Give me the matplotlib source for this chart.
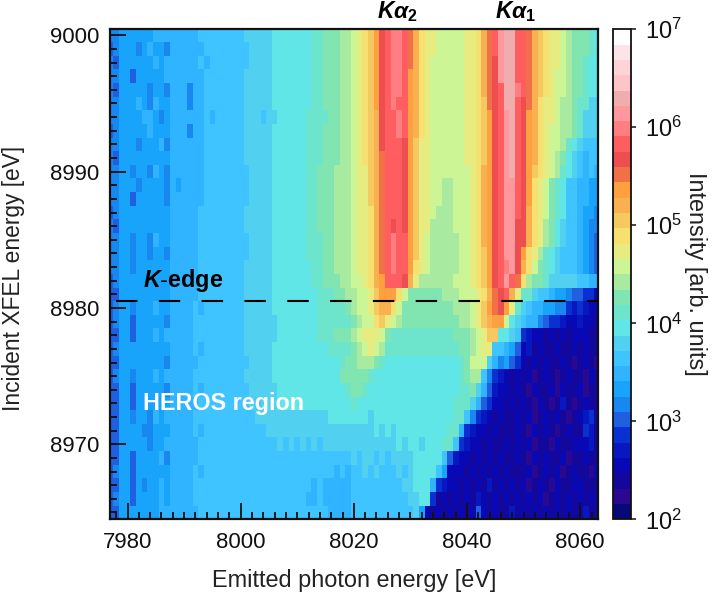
import numpy as np
import matplotlib
matplotlib.use('Agg')
import matplotlib.pyplot as plt
from matplotlib.colors import ListedColormap, LogNorm
from matplotlib.ticker import MultipleLocator

plt.rcParams['font.family'] = ['Liberation Sans', 'DejaVu Sans']
plt.rcParams['mathtext.fontset'] = 'custom'
plt.rcParams['mathtext.rm'] = 'Liberation Sans'
plt.rcParams['mathtext.bf'] = 'Liberation Sans:bold'
plt.rcParams['mathtext.it'] = 'Liberation Sans:italic'
plt.rcParams['mathtext.bfit'] = 'Liberation Sans:italic:bold'

# colour scale bands, bottom to top, over five decades
band_colors = [
    '#080878', '#2a0890', '#14089c', '#0808b4', '#0818c0', '#0a30d0', '#2060e0', '#1888f0',
    '#18a4fa', '#30b4ff', '#40c4ff', '#52d0f0', '#60e6e6', '#6ce5cc', '#80e5b0', '#a8eba0',
    '#ccf595', '#e6ec80', '#f5e070', '#f5c860', '#f8b050', '#ffa040', '#f07048', '#ee4e50',
    '#ff5e60', '#ff7e82', '#ff989c', '#efadae', '#ffc4c8', '#ffd4d8', '#fde4e8', '#ffffff',
]
band_digits = '0123456789abcdefghijklmnopqrstuv'

emitted_ev = np.arange(7977, 8064)
incident_ev = np.arange(9000, 8964, -1)

# intensity band per emitted energy column, one string per incident energy,
# groups are 7977-79, 7980-89, 7990-99, ... 8060-63
intensity_bands = [
    "778 8888899999 999aaaaaaa abbbbbcccc cccddeeeff ghijlnoppo mkihhggggg hhikmoqrro omkjihhgfe eedc",
    "678 8878988799 9999aaaaaa aabbbbcccc cccddeeeff ghijlnoppo mkihhggggg hhikmoqrro omkjihhgfe eedc",
    "768 8888898999 999a9aaaaa aabbbbcccc cccddeeeff ghijlnoppo mkihgggggg hhikmnqrro omkjihhgfe edcc",
    "778 8688888999 9999aaaaaa abbbbbcccc cccddeeeff ghijlnoppo lkihgggggg hhikmnqrro omkjihggfe edcc",
    "768 8888788799 9799aaaaaa abbbbbcccc cccddeeeff ghijlnoppo lkihgggggg hhikmnorrp omkjihggfe edcc",
    "778 8898798899 9799aaaaaa abbbbbcccc cccddeeeff ghijlnopoo lkihgggggg hhijmnorro nmkihhgffe ddbb",
    "778 8889987899 9999a9aaaa abbbabbccc ccddddeeff ghijknoopo lkihgggggg hhijlnoqro nlkihhgffe dbbb",
    "678 8888988899 9799aaaaaa abbbbbcccc ccdddeeeff ghijknoopo lkihgggggg hhijlnoqro nlkihggffe dbbb",
    "778 8878889799 9999aaaaaa abbbbbcccc ccdddeeeff ghijknooon ljhhgggggg hhijlnoqro nlkihggfdc baaa",
    "768 8888888899 9999aaaaaa abbbbbcccc ccdddeeeff ghijkmooon ljhhgggggg hhijlnoqro nlkihgfecb a9aa",
    "778 8788798799 9999aaaaaa aabbbbcccc ccddeeefff ghhjkmooon ljhhgggggg ghiklnoqro nljihgfdcb a9a9",
    "778 8878888798 9999aaaaaa aabbbbcccc ccddeeefff ghhjkmooon ljhhggffgg ghiklnoqqo nlihgedcaa 9988",
    "778 8688888799 9999aaaaaa aabbbbcccc ccddeeefff ghhjkmooon ljhhggffgg ghiklnoqqo nlihgedcaa 9988",
    "678 8888888899 999aaaaaaa abbbbbcccc ccddeeefff ghhikmooon ljhhgfffgg ghiklnoqqo nkihgedcaa 9887",
    "768 8888888899 999aaaaaaa abbbbbcccc ccddeeefff ghhikmonon ljhhffffgg ghiklnoqqn nkihfecbaa 9877",
    "778 8788798899 999aaaaaaa aabbbbcccc ccdddeefff ghhikmopoo ljhgfffffg ghiklnoqqn nkihfecbaa 9876",
    "778 8788788799 999aaaaaaa aabbbbcccc ccdddeefff ghhikmopoo ljhgfffffg ghijlnoqqn lihfdcbaaa 9876",
    "778 8788888899 999aaaaaaa abbbbbcccc cccddeefff ghhikmopoo lihgfffffg ghijlnopqn kigedcbaaa 9876",
    "678 8888888899 999aaaaaaa abbbbbcccc cccddeeeff gghiklooon khffffffgg ghijlnoqom ifeedbbbbb aa99",
    "668 8888888899 999aaaaaaa abbbbbcccc ccccdddeef fgghjlllig eeeeeefffg gghikmnokh ddbaa98876 6553",
    "678 8788898899 99a9aaaaaa abbbbbcccc ccccddddde fgghjkkige eeeeeeeeff fghjlmnlhd ba99887754 5433",
    "678 8688888799 99aaaaaaaa abbbbbbccc ccccdddddd efggijhgfe eeeeeeeeef fghjkllgcb a997655433 4332",
    "668 8688898999 99aaaaaaaa abbbbbbccc ccccdddeee fghhhgeddd ddddddddee efghjjccba 5433232323 3322",
    "678 8888888899 99a9aaaaaa abbbbbcccc ccccccdddd efghgfdddd ddddddddde efghhaa986 3423223223 2322",
    "668 8888888799 999aaaaaaa aabbbbcccc ccccccccde efffedcccc cccccccccd egggb97865 3232322321 2321",
    "678 8788898999 99aaaaaaaa abbbbbcccc ccccccccee eeedcccccc cccccccccd effa754323 2312321232 2132",
    "668 8688888799 99a9aaaaaa aabbbbbccc cccccccccd eedccccccc cccccccccd deb9643323 2132231322 3122",
    "668 8688888899 999aaaaaaa aababbbccc cccccccccc dccccccccc ccccccccdd db96533232 3213212421 2322",
    "668 8788798999 99aaaaaaaa aaabbbbbbb bbbbbbcccc cccbcccccc ccccccccdd a754323223 2312323212 3452",
    "668 8887788899 99a9aaaaaa aaaaabbbbb bbbbbbbbbb bbbbcbcbcc cccccccdd9 5433232223 2132321232 2542",
    "668 8888788999 999aaaaaaa aaaaaaabab abababbbbb bbbbbbbbcb ccbcccdda5 4332322323 2312213223 3342",
    "668 8688889799 999aaaaaaa aaaaaaaaaa aaaaaaaaaa babbababbb bccccca643 3232323223 2132322312 2322",
    "678 8688888899 99a9aaaaaa aaaaaaaaaa aaaaaaa9a9 aababaaaba bcccca8333 2323232322 2312323123 2213",
    "668 8687889899 99aaaaaaaa aaaaaaaaaa aaa9a99999 aaaaaaaaab bccc954332 3232423232 3123213223 3222",
    "678 8688889899 99aaaaaaaa aaaaaaaaaa aa99a99999 aaaaaaaaaa bbcc523232 3243232323 2323123232 3232",
    "668 8888889999 999aaaaaaa aaaaaaaaaa aaaaaa9999 aaaaaaaaaa ab83232323 2363232242 3232323232 2422",
]

band_index = np.array([[band_digits.index(c) for c in row.replace(' ', '')] for row in intensity_bands])
# each band sits at its centre on the log scale
intensity = 10.0 ** (2 + (band_index + 0.5) * 5 / len(band_colors))

kedge_ev = 8980.5

W, H = 714, 593
fig = plt.figure(figsize=(W / 100, H / 100), dpi=100)
ax = fig.add_axes([110 / W, 1 - 519.3 / H, (598.3 - 110) / W, (519.3 - 29.3) / H])
cax = fig.add_axes([613.3 / W, 1 - 519.3 / H, (630.7 - 613.3) / W, (519.3 - 29.3) / H])

cmap = ListedColormap(band_colors)
norm = LogNorm(vmin=1e2, vmax=1e7)
mesh = ax.pcolormesh(emitted_ev, incident_ev, intensity, cmap=cmap, norm=norm, shading='nearest')
ax.set_xlim(7976.9, 8063.2)
ax.set_ylim(8964.5, 9000.44)

ax.xaxis.set_major_locator(MultipleLocator(20))
ax.xaxis.set_minor_locator(MultipleLocator(2))
ax.yaxis.set_major_locator(MultipleLocator(10))
ax.yaxis.set_minor_locator(MultipleLocator(1))
ax.tick_params(which='major', direction='in', length=11.5, width=1.3, labelsize=16, colors='#111111')
ax.tick_params(which='minor', direction='in', length=5.2, width=1.3, colors='#111111')
ax.tick_params(axis='x', which='major', pad=9)
ax.tick_params(axis='y', which='major', pad=8)
for spine in ax.spines.values():
    spine.set_linewidth(1.6)
    spine.set_color('#111111')

fig.text(354 / W, 1 - 581 / H, 'Emitted photon energy [eV]', fontsize=16.9, ha='center', va='center', color='#222222')
fig.text(14 / W, 1 - 278 / H, 'Incident XFEL energy [eV]', fontsize=16.4, rotation=90, ha='center', va='center', color='#222222')

# K-edge marker and annotations
ax.plot([7977.93, 8063.2], [kedge_ev, kedge_ev], color='black', lw=1.5, linestyle=(0, (10.3, 10.25)))
ax.text(7982.8, 8982.0, r'$\mathbfit{K}$' + r'$\mathbf{\text{-}edge}$', fontsize=16.8, color='black', ha='left', va='center')
ax.text(7982.8, 8973.0, 'HEROS region', fontsize=16.8, fontweight='bold', color='white', ha='left', va='center')
fig.text(398 / W, 1 - 12 / H, r'$\mathbfit{K\alpha}_{\mathbf{2}}$', fontsize=16.5, ha='center', va='center', color='black')
fig.text(516 / W, 1 - 12 / H, r'$\mathbfit{K\alpha}_{\mathbf{1}}$', fontsize=16.5, ha='center', va='center', color='black')

cbar = fig.colorbar(mesh, cax=cax)
cbar.set_ticks([1e2, 1e3, 1e4, 1e5, 1e6, 1e7])
cbar.minorticks_off()
cbar.ax.tick_params(length=3.5, width=1.1, labelsize=17, colors='#111111', pad=7)
cbar.outline.set_linewidth(1.3)
cbar.outline.set_edgecolor('#111111')
fig.text(696 / W, 1 - 274 / H, 'Intensity [arb. units]', fontsize=16.9, rotation=270, ha='center', va='center', color='#222222')

fig.savefig('out.png', dpi=100)
